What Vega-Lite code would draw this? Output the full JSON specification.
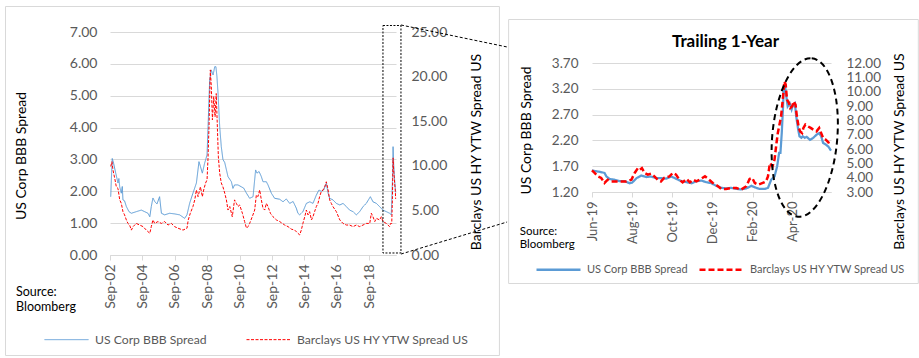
{
  "$schema": "https://vega.github.io/schema/vega-lite/v6.json",
  "padding": {"left": 5, "top": 6, "right": 0, "bottom": 0},
  "background": "white",
  "spacing": 0,
  "config": {
    "view": {"stroke": null},
    "font": "Lato",
    "axis": {"labelFont": "Lato", "titleFont": "Lato", "labelColor": "#595959", "titleColor": "#000000", "titleFontWeight": "normal", "gridColor": "#D9D9D9", "domainColor": "#D9D9D9", "tickColor": "#D9D9D9", "labelOverlap": false, "labelFlush": false},
    "legend": {"labelFont": "Lato", "labelColor": "#595959", "symbolType": "stroke", "labelLimit": 400}
  },
  "datasets": {
    "lb": [
      {"d":"2002-09-17","v":1.83},{"d":"2002-10-01","v":2.35},{"d":"2002-10-22","v":3.03},{"d":"2002-11-21","v":2.88},{"d":"2003-01-08","v":2.57},{"d":"2003-02-28","v":2.26},{"d":"2003-03-20","v":2.40},{"d":"2003-04-08","v":2.14},{"d":"2003-05-14","v":1.94},{"d":"2003-06-05","v":2.15},{"d":"2003-06-20","v":1.73},{"d":"2003-07-26","v":1.70},{"d":"2003-09-05","v":1.52},{"d":"2003-11-03","v":1.36},{"d":"2003-12-27","v":1.31},{"d":"2004-04-15","v":1.36},{"d":"2004-08-07","v":1.41},{"d":"2004-10-22","v":1.36},{"d":"2005-01-04","v":1.31},{"d":"2005-02-14","v":1.20},{"d":"2005-03-20","v":1.52},{"d":"2005-04-26","v":1.79},{"d":"2005-06-05","v":1.68},{"d":"2005-07-26","v":1.60},{"d":"2005-09-23","v":1.83},{"d":"2005-11-03","v":1.31},{"d":"2006-01-15","v":1.26},{"d":"2006-05-07","v":1.31},{"d":"2006-08-28","v":1.29},{"d":"2006-12-20","v":1.26},{"d":"2007-04-11","v":1.15},{"d":"2007-06-02","v":1.26},{"d":"2007-08-03","v":1.63},{"d":"2007-10-15","v":1.94},{"d":"2008-01-01","v":2.26},{"d":"2008-02-28","v":2.93},{"d":"2008-04-01","v":2.78},{"d":"2008-05-14","v":2.57},{"d":"2008-07-04","v":2.88},{"d":"2008-08-28","v":3.14},{"d":"2008-09-20","v":4.03},{"d":"2008-10-26","v":5.49},{"d":"2008-12-02","v":5.81},{"d":"2009-01-11","v":5.65},{"d":"2009-02-17","v":5.91},{"d":"2009-03-16","v":5.91},{"d":"2009-04-08","v":5.60},{"d":"2009-05-03","v":5.07},{"d":"2009-06-09","v":4.03},{"d":"2009-07-15","v":3.40},{"d":"2009-08-21","v":3.00},{"d":"2009-10-01","v":2.90},{"d":"2009-12-13","v":2.46},{"d":"2010-02-28","v":2.30},{"d":"2010-04-04","v":2.09},{"d":"2010-05-10","v":2.20},{"d":"2010-07-26","v":2.20},{"d":"2010-10-11","v":2.14},{"d":"2010-12-02","v":2.10},{"d":"2011-02-03","v":1.94},{"d":"2011-04-15","v":1.78},{"d":"2011-07-01","v":1.83},{"d":"2011-08-28","v":2.67},{"d":"2011-09-27","v":2.57},{"d":"2011-11-14","v":2.62},{"d":"2012-01-04","v":2.46},{"d":"2012-02-10","v":2.30},{"d":"2012-04-26","v":2.30},{"d":"2012-06-02","v":2.20},{"d":"2012-08-17","v":1.94},{"d":"2012-10-29","v":1.78},{"d":"2013-02-21","v":1.75},{"d":"2013-05-07","v":1.67},{"d":"2013-07-19","v":1.76},{"d":"2013-10-04","v":1.62},{"d":"2013-12-20","v":1.68},{"d":"2014-03-02","v":1.47},{"d":"2014-04-08","v":1.31},{"d":"2014-05-17","v":1.26},{"d":"2014-07-29","v":1.36},{"d":"2014-10-15","v":1.62},{"d":"2015-01-01","v":1.67},{"d":"2015-03-13","v":1.62},{"d":"2015-05-28","v":1.88},{"d":"2015-07-26","v":2.04},{"d":"2015-09-16","v":2.00},{"d":"2015-11-10","v":2.04},{"d":"2016-01-08","v":2.25},{"d":"2016-02-17","v":1.94},{"d":"2016-03-23","v":1.78},{"d":"2016-06-05","v":1.73},{"d":"2016-08-21","v":1.62},{"d":"2016-11-07","v":1.57},{"d":"2017-01-19","v":1.62},{"d":"2017-04-04","v":1.52},{"d":"2017-06-16","v":1.41},{"d":"2017-09-02","v":1.36},{"d":"2017-11-14","v":1.26},{"d":"2018-01-29","v":1.36},{"d":"2018-04-15","v":1.52},{"d":"2018-06-27","v":1.62},{"d":"2018-09-27","v":1.83},{"d":"2018-11-25","v":1.67},{"d":"2019-02-10","v":1.62},{"d":"2019-04-22","v":1.52},{"d":"2019-07-08","v":1.41},{"d":"2019-09-23","v":1.36},{"d":"2019-12-05","v":1.31},{"d":"2020-01-11","v":1.26},{"d":"2020-02-07","v":2.35},{"d":"2020-02-21","v":3.40},{"d":"2020-03-05","v":2.88},{"d":"2020-03-27","v":2.35},{"d":"2020-04-08","v":2.14},{"d":"2020-04-19","v":1.96}
    ],
    "lh": [
      {"d":"2002-09-17","v":9.93},{"d":"2002-10-15","v":10.46},{"d":"2002-11-07","v":9.54},{"d":"2002-12-16","v":8.61},{"d":"2003-01-22","v":7.64},{"d":"2003-02-28","v":7.46},{"d":"2003-04-08","v":6.18},{"d":"2003-05-14","v":5.79},{"d":"2003-06-20","v":4.86},{"d":"2003-07-26","v":4.50},{"d":"2003-09-05","v":3.93},{"d":"2003-10-11","v":3.54},{"d":"2003-11-17","v":3.36},{"d":"2003-12-27","v":2.79},{"d":"2004-02-03","v":3.18},{"d":"2004-04-15","v":3.54},{"d":"2004-07-01","v":3.36},{"d":"2004-09-16","v":3.18},{"d":"2004-11-28","v":2.79},{"d":"2005-02-14","v":2.43},{"d":"2005-03-20","v":3.18},{"d":"2005-04-26","v":3.93},{"d":"2005-06-05","v":3.54},{"d":"2005-08-17","v":3.75},{"d":"2005-11-03","v":3.54},{"d":"2006-01-15","v":3.75},{"d":"2006-04-01","v":3.36},{"d":"2006-06-16","v":3.54},{"d":"2006-08-28","v":3.18},{"d":"2006-11-14","v":3.00},{"d":"2007-03-05","v":2.79},{"d":"2007-06-02","v":3.00},{"d":"2007-07-01","v":3.93},{"d":"2007-08-17","v":4.68},{"d":"2007-10-15","v":5.43},{"d":"2007-11-25","v":6.18},{"d":"2008-01-01","v":7.29},{"d":"2008-02-07","v":6.54},{"d":"2008-04-01","v":7.64},{"d":"2008-05-14","v":6.54},{"d":"2008-06-13","v":7.29},{"d":"2008-07-26","v":8.07},{"d":"2008-08-28","v":8.43},{"d":"2008-09-20","v":11.0},{"d":"2008-10-11","v":14.39},{"d":"2008-11-10","v":20.75},{"d":"2008-12-02","v":18.89},{"d":"2008-12-27","v":15.14},{"d":"2009-01-26","v":17.75},{"d":"2009-02-25","v":15.5},{"d":"2009-03-23","v":18.1},{"d":"2009-04-15","v":14.75},{"d":"2009-05-10","v":11.0},{"d":"2009-06-09","v":9.18},{"d":"2009-07-15","v":8.07},{"d":"2009-08-21","v":7.64},{"d":"2009-10-01","v":6.93},{"d":"2009-11-07","v":6.18},{"d":"2009-12-13","v":5.04},{"d":"2010-01-22","v":5.43},{"d":"2010-03-20","v":4.29},{"d":"2010-05-10","v":6.18},{"d":"2010-06-20","v":5.79},{"d":"2010-07-26","v":5.43},{"d":"2010-09-02","v":5.61},{"d":"2010-11-03","v":4.68},{"d":"2010-12-23","v":3.75},{"d":"2011-02-03","v":3.00},{"d":"2011-03-09","v":3.18},{"d":"2011-04-15","v":3.54},{"d":"2011-06-13","v":4.29},{"d":"2011-08-07","v":5.04},{"d":"2011-09-13","v":6.71},{"d":"2011-10-19","v":6.54},{"d":"2011-11-28","v":7.29},{"d":"2012-01-04","v":6.18},{"d":"2012-02-10","v":5.25},{"d":"2012-03-20","v":5.04},{"d":"2012-04-26","v":5.79},{"d":"2012-06-02","v":5.43},{"d":"2012-07-26","v":4.68},{"d":"2012-09-23","v":4.29},{"d":"2012-12-09","v":3.93},{"d":"2013-02-21","v":3.75},{"d":"2013-04-22","v":3.54},{"d":"2013-06-13","v":3.36},{"d":"2013-08-28","v":3.18},{"d":"2013-11-10","v":2.90},{"d":"2014-01-26","v":2.79},{"d":"2014-04-08","v":2.43},{"d":"2014-05-17","v":2.25},{"d":"2014-06-23","v":2.79},{"d":"2014-07-29","v":3.54},{"d":"2014-09-09","v":4.29},{"d":"2014-10-15","v":5.04},{"d":"2014-11-21","v":4.50},{"d":"2014-12-27","v":4.86},{"d":"2015-02-07","v":3.93},{"d":"2015-03-13","v":4.29},{"d":"2015-04-19","v":4.86},{"d":"2015-05-28","v":5.43},{"d":"2015-07-04","v":5.79},{"d":"2015-08-10","v":6.54},{"d":"2015-09-16","v":7.11},{"d":"2015-10-26","v":7.29},{"d":"2015-12-02","v":7.64},{"d":"2016-01-08","v":8.21},{"d":"2016-02-17","v":7.29},{"d":"2016-03-23","v":6.18},{"d":"2016-04-29","v":5.79},{"d":"2016-06-05","v":5.43},{"d":"2016-08-21","v":4.86},{"d":"2016-11-07","v":3.93},{"d":"2017-01-19","v":3.54},{"d":"2017-04-04","v":3.36},{"d":"2017-06-16","v":3.36},{"d":"2017-09-02","v":3.18},{"d":"2017-11-14","v":3.36},{"d":"2018-01-29","v":3.18},{"d":"2018-04-15","v":3.36},{"d":"2018-06-27","v":3.54},{"d":"2018-09-13","v":3.54},{"d":"2018-10-19","v":4.68},{"d":"2018-11-25","v":4.29},{"d":"2019-01-04","v":3.75},{"d":"2019-02-10","v":4.11},{"d":"2019-04-22","v":3.93},{"d":"2019-06-02","v":4.29},{"d":"2019-07-08","v":3.75},{"d":"2019-09-23","v":3.54},{"d":"2019-10-29","v":3.36},{"d":"2019-12-05","v":3.18},{"d":"2019-12-27","v":3.54},{"d":"2020-01-22","v":3.54},{"d":"2020-02-07","v":6.54},{"d":"2020-02-21","v":10.89},{"d":"2020-03-05","v":9.54},{"d":"2020-03-27","v":8.07},{"d":"2020-04-11","v":7.29},{"d":"2020-04-19","v":6.29}
    ],
    "rb": [
      {"d":"2019-06-01","v":1.62},{"d":"2019-06-08","v":1.60},{"d":"2019-06-13","v":1.59},{"d":"2019-06-20","v":1.57},{"d":"2019-06-23","v":1.50},{"d":"2019-06-28","v":1.45},{"d":"2019-07-05","v":1.44},{"d":"2019-07-13","v":1.41},{"d":"2019-07-21","v":1.41},{"d":"2019-07-28","v":1.37},{"d":"2019-08-01","v":1.38},{"d":"2019-08-08","v":1.47},{"d":"2019-08-15","v":1.52},{"d":"2019-08-23","v":1.49},{"d":"2019-08-30","v":1.50},{"d":"2019-09-07","v":1.47},{"d":"2019-09-14","v":1.47},{"d":"2019-09-22","v":1.46},{"d":"2019-09-30","v":1.50},{"d":"2019-10-08","v":1.45},{"d":"2019-10-15","v":1.41},{"d":"2019-10-23","v":1.39},{"d":"2019-10-31","v":1.37},{"d":"2019-11-07","v":1.41},{"d":"2019-11-15","v":1.42},{"d":"2019-11-22","v":1.39},{"d":"2019-11-30","v":1.37},{"d":"2019-12-07","v":1.32},{"d":"2019-12-15","v":1.28},{"d":"2019-12-22","v":1.27},{"d":"2019-12-30","v":1.28},{"d":"2020-01-07","v":1.26},{"d":"2020-01-14","v":1.25},{"d":"2020-01-22","v":1.27},{"d":"2020-01-30","v":1.32},{"d":"2020-02-04","v":1.29},{"d":"2020-02-11","v":1.26},{"d":"2020-02-19","v":1.26},{"d":"2020-02-24","v":1.28},{"d":"2020-02-29","v":1.44},{"d":"2020-03-05","v":1.50},{"d":"2020-03-09","v":1.70},{"d":"2020-03-12","v":1.96},{"d":"2020-03-14","v":1.96},{"d":"2020-03-16","v":2.34},{"d":"2020-03-18","v":2.86},{"d":"2020-03-19","v":3.22},{"d":"2020-03-21","v":3.25},{"d":"2020-03-23","v":3.05},{"d":"2020-03-25","v":2.86},{"d":"2020-03-28","v":2.92},{"d":"2020-03-31","v":2.80},{"d":"2020-04-02","v":2.89},{"d":"2020-04-05","v":2.92},{"d":"2020-04-07","v":2.67},{"d":"2020-04-10","v":2.41},{"d":"2020-04-12","v":2.28},{"d":"2020-04-15","v":2.25},{"d":"2020-04-17","v":2.28},{"d":"2020-04-20","v":2.25},{"d":"2020-04-23","v":2.27},{"d":"2020-04-28","v":2.21},{"d":"2020-05-03","v":2.25},{"d":"2020-05-08","v":2.31},{"d":"2020-05-12","v":2.34},{"d":"2020-05-15","v":2.28},{"d":"2020-05-18","v":2.15},{"d":"2020-05-22","v":2.12},{"d":"2020-05-26","v":2.08},{"d":"2020-05-30","v":2.00}
    ],
    "rh": [
      {"d":"2019-06-01","v":4.51},{"d":"2019-06-05","v":4.33},{"d":"2019-06-10","v":4.09},{"d":"2019-06-15","v":3.98},{"d":"2019-06-20","v":3.63},{"d":"2019-06-25","v":3.86},{"d":"2019-06-30","v":3.74},{"d":"2019-07-08","v":3.74},{"d":"2019-07-15","v":3.74},{"d":"2019-07-23","v":3.74},{"d":"2019-07-31","v":3.86},{"d":"2019-08-05","v":4.33},{"d":"2019-08-10","v":4.67},{"d":"2019-08-13","v":4.56},{"d":"2019-08-16","v":4.67},{"d":"2019-08-20","v":4.33},{"d":"2019-08-25","v":4.21},{"d":"2019-08-30","v":4.28},{"d":"2019-09-04","v":4.09},{"d":"2019-09-09","v":3.86},{"d":"2019-09-14","v":3.74},{"d":"2019-09-19","v":3.98},{"d":"2019-09-27","v":4.09},{"d":"2019-10-02","v":4.33},{"d":"2019-10-07","v":4.21},{"d":"2019-10-12","v":3.86},{"d":"2019-10-17","v":3.67},{"d":"2019-10-23","v":3.91},{"d":"2019-10-28","v":3.67},{"d":"2019-11-02","v":3.86},{"d":"2019-11-07","v":3.74},{"d":"2019-11-12","v":3.86},{"d":"2019-11-20","v":4.09},{"d":"2019-11-25","v":3.91},{"d":"2019-12-02","v":3.63},{"d":"2019-12-10","v":3.40},{"d":"2019-12-15","v":3.21},{"d":"2019-12-22","v":3.21},{"d":"2019-12-30","v":3.28},{"d":"2020-01-07","v":3.28},{"d":"2020-01-14","v":3.16},{"d":"2020-01-22","v":3.40},{"d":"2020-01-27","v":3.91},{"d":"2020-01-31","v":3.98},{"d":"2020-02-04","v":3.63},{"d":"2020-02-09","v":3.51},{"d":"2020-02-16","v":3.63},{"d":"2020-02-21","v":3.74},{"d":"2020-02-24","v":4.09},{"d":"2020-02-27","v":5.02},{"d":"2020-03-02","v":4.79},{"d":"2020-03-05","v":5.26},{"d":"2020-03-08","v":6.42},{"d":"2020-03-10","v":7.12},{"d":"2020-03-13","v":7.81},{"d":"2020-03-15","v":8.28},{"d":"2020-03-18","v":9.67},{"d":"2020-03-20","v":10.72},{"d":"2020-03-22","v":10.49},{"d":"2020-03-24","v":9.44},{"d":"2020-03-27","v":9.21},{"d":"2020-03-29","v":8.86},{"d":"2020-04-01","v":8.98},{"d":"2020-04-03","v":9.33},{"d":"2020-04-06","v":9.09},{"d":"2020-04-08","v":8.28},{"d":"2020-04-11","v":7.47},{"d":"2020-04-13","v":7.23},{"d":"2020-04-16","v":7.12},{"d":"2020-04-18","v":7.47},{"d":"2020-04-21","v":7.70},{"d":"2020-04-25","v":7.58},{"d":"2020-04-29","v":7.47},{"d":"2020-05-03","v":7.35},{"d":"2020-05-08","v":7.23},{"d":"2020-05-12","v":7.47},{"d":"2020-05-14","v":7.23},{"d":"2020-05-18","v":6.77},{"d":"2020-05-22","v":6.65},{"d":"2020-05-26","v":6.47},{"d":"2020-05-28","v":6.30}
    ]
  },
  "hconcat": [
    {
      "width": 286,
      "height": 223,
      "encoding": {
        "x": {
          "field": "d", "type": "temporal",
          "scale": {"type": "utc", "domain": [{"year": 2002, "month": 9, "date": 1, "utc": true}, {"year": 2020, "month": 4, "date": 27, "utc": true}]},
          "axis": {
            "title": null, "format": "%b-%y", "labelAngle": -90, "labelFontSize": 14, "tickSize": 5, "labelPadding": 4, "grid": false,
            "values": [
              {"year": 2002, "month": 9, "date": 1, "utc": true}, {"year": 2004, "month": 9, "date": 1, "utc": true},
              {"year": 2006, "month": 9, "date": 1, "utc": true}, {"year": 2008, "month": 9, "date": 1, "utc": true},
              {"year": 2010, "month": 9, "date": 1, "utc": true}, {"year": 2012, "month": 9, "date": 1, "utc": true},
              {"year": 2014, "month": 9, "date": 1, "utc": true}, {"year": 2016, "month": 9, "date": 1, "utc": true},
              {"year": 2018, "month": 9, "date": 1, "utc": true}
            ]
          }
        }
      },
      "layer": [
        {
          "data": {"name": "lb"},
          "mark": {"type": "line", "strokeWidth": 1},
          "encoding": {
            "y": {
              "field": "v", "type": "quantitative", "scale": {"domain": [0, 7]},
              "axis": {"values": [0, 1, 2, 3, 4, 5, 6, 7], "format": ".2f", "grid": true, "domain": false, "ticks": false, "tickSize": 0, "labelPadding": 13, "labelFontSize": 14, "title": "US Corp BBB Spread", "titleFontSize": 14, "titleAngle": 270, "titleBaseline": "bottom", "titleAlign": "center", "titleX": -82, "titleY": 123.5}
            },
            "color": {
              "datum": "US Corp BBB Spread",
              "scale": {"domain": ["US Corp BBB Spread", "Barclays US HY YTW Spread US"], "range": ["#5B9BD5", "#FF0000"]},
              "legend": {
                "title": null, "orient": "none", "legendX": -66, "legendY": 285, "direction": "horizontal", "symbolType": "stroke", "symbolSize": 1936, "symbolStrokeWidth": 1, "labelFontSize": 12.2, "labelOffset": 6, "columnPadding": 37, "labelLimit": 400,
                "encode": {"symbols": {"update": {"strokeDash": {"signal": "datum.value === 'Barclays US HY YTW Spread US' ? [3, 1.5] : [1, 0]"}}}}
              }
            },
            "strokeDash": {
              "datum": "US Corp BBB Spread",
              "scale": {"domain": ["US Corp BBB Spread", "Barclays US HY YTW Spread US"], "range": [[1, 0], [3, 1.5]]},
              "legend": null
            }
          }
        },
        {
          "data": {"name": "lh"},
          "mark": {"type": "line", "strokeWidth": 1},
          "encoding": {
            "y": {
              "field": "v", "type": "quantitative", "scale": {"domain": [0, 25]},
              "axis": {"orient": "right", "values": [0, 5, 10, 15, 20, 25], "format": ".2f", "grid": false, "domain": false, "ticks": false, "tickSize": 0, "labelPadding": 15, "labelFontSize": 14, "title": "Barclays US HY YTW Spread US", "titleFontSize": 14, "titleAngle": 270, "titleBaseline": "bottom", "titleAlign": "center", "titleX": 87, "titleY": 119.5}
            },
            "color": {"datum": "Barclays US HY YTW Spread US"},
            "strokeDash": {"datum": "Barclays US HY YTW Spread US", "legend": null}
          }
        },
        {
          "encoding": {"y": {"field": "v", "type": "quantitative", "scale": {"domain": [0, 7]}, "axis": null}},
          "layer": [
            {
              "data": {"values": [{"d": "1996-03-20", "d2": "2026-09-15", "v": 7.80, "v2": -3.155}]},
              "mark": {"type": "rect", "filled": false, "stroke": "#D9D9D9", "strokeWidth": 1, "clip": false},
              "encoding": {"x2": {"field": "d2"}, "y2": {"field": "v2"}}
            },
            {
              "data": {"values": [{"d": "2019-07-08", "d2": "2020-08-17", "v": 7.204, "v2": 0.063}]},
              "mark": {"type": "rect", "filled": false, "stroke": "#000000", "strokeWidth": 1, "strokeDash": [2, 1.5], "clip": false},
              "encoding": {"x2": {"field": "d2"}, "y2": {"field": "v2"}}
            },
            {
              "data": {"values": [
                {"d": "2020-08-17", "d2": "2027-03-06", "v": 7.22, "v2": 6.53},
                {"d": "2020-08-17", "d2": "2027-03-06", "v": 0.03, "v2": 1.036}
              ]},
              "mark": {"type": "rule", "color": "#000000", "strokeWidth": 1, "strokeDash": [3, 2], "clip": false},
              "encoding": {"x2": {"field": "d2"}, "y2": {"field": "v2"}}
            },
            {
              "data": {"values": [{"d": "1996-11-12", "v": -0.973, "label": ["Source:", "Bloomberg"]}]},
              "mark": {"type": "text", "align": "left", "baseline": "top", "font": "Lato", "fontSize": 12.5, "lineHeight": 15, "color": "#000000", "clip": false},
              "encoding": {"text": {"field": "label"}}
            }
          ]
        }
      ],
      "resolve": {"scale": {"y": "independent"}}
    },
    {
      "width": 239,
      "height": 160,
      "title": {"text": "Trailing 1-Year", "frame": "group", "anchor": "middle", "dx": 14, "offset": -45, "fontSize": 17, "fontWeight": "bold", "font": "Lato", "color": "#000000", "baseline": "alphabetic"},
      "encoding": {
        "x": {
          "field": "d", "type": "temporal",
          "scale": {"type": "utc", "domain": [{"year": 2019, "month": 6, "date": 1, "utc": true}, {"year": 2020, "month": 5, "date": 30, "utc": true}]},
          "axis": {
            "title": null, "format": "%b-%y", "labelAngle": -90, "labelFontSize": 13, "tickSize": 5, "labelPadding": 4, "grid": false,
            "values": [
              {"year": 2019, "month": 6, "date": 1, "utc": true}, {"year": 2019, "month": 8, "date": 1, "utc": true},
              {"year": 2019, "month": 10, "date": 1, "utc": true}, {"year": 2019, "month": 12, "date": 1, "utc": true},
              {"year": 2020, "month": 2, "date": 1, "utc": true}, {"year": 2020, "month": 4, "date": 1, "utc": true}
            ]
          }
        }
      },
      "layer": [
        {
          "data": {"name": "rb"},
          "mark": {"type": "line", "strokeWidth": 2.25},
          "encoding": {
            "y": {
              "field": "v", "type": "quantitative", "scale": {"domain": [1.2, 4.3008]},
              "axis": {"values": [1.2, 1.7, 2.2, 2.7, 3.2, 3.7], "format": ".2f", "grid": true, "domain": false, "ticks": false, "tickSize": 0, "labelPadding": 14, "labelFontSize": 13.5, "title": "US Corp BBB Spread", "titleFontSize": 14, "titleAngle": 270, "titleBaseline": "bottom", "titleAlign": "center", "titleX": -59, "titleY": 98}
            },
            "color": {
              "datum": "US Corp BBB Spread",
              "scale": {"domain": ["US Corp BBB Spread", "Barclays US HY YTW Spread US"], "range": ["#5B9BD5", "#FF0000"]},
              "legend": {
                "title": null, "orient": "none", "legendX": -57, "legendY": 214, "direction": "horizontal", "symbolType": "stroke", "symbolSize": 1936, "symbolStrokeWidth": 2.5, "labelFontSize": 11, "labelOffset": 5, "columnPadding": 6, "labelLimit": 400,
                "encode": {"symbols": {"update": {"strokeDash": {"signal": "datum.value === 'Barclays US HY YTW Spread US' ? [6, 3] : [1, 0]"}}}}
              }
            },
            "strokeDash": {
              "datum": "US Corp BBB Spread",
              "scale": {"domain": ["US Corp BBB Spread", "Barclays US HY YTW Spread US"], "range": [[1, 0], [6, 3]]},
              "legend": null
            }
          }
        },
        {
          "data": {"name": "rh"},
          "mark": {"type": "line", "strokeWidth": 2.5},
          "encoding": {
            "y": {
              "field": "v", "type": "quantitative", "scale": {"domain": [3, 14.1628]},
              "axis": {"orient": "right", "values": [3, 4, 5, 6, 7, 8, 9, 10, 11, 12], "format": ".2f", "grid": false, "domain": false, "ticks": false, "tickSize": 0, "labelPadding": 15, "labelFontSize": 13.5, "title": "Barclays US HY YTW Spread US", "titleFontSize": 14, "titleAngle": 270, "titleBaseline": "bottom", "titleAlign": "center", "titleX": 75, "titleY": 119}
            },
            "color": {"datum": "Barclays US HY YTW Spread US"},
            "strokeDash": {"datum": "Barclays US HY YTW Spread US", "legend": null}
          }
        },
        {
          "encoding": {"y": {"field": "v", "type": "quantitative", "scale": {"domain": [1.2, 4.3008]}, "axis": null}},
          "layer": [
            {
              "data": {"values": [{"d": "2019-01-25", "d2": "2020-10-10", "v": 4.5426, "v2": -0.573}]},
              "mark": {"type": "rect", "filled": false, "stroke": "#D9D9D9", "strokeWidth": 1, "clip": false},
              "encoding": {"x2": {"field": "d2"}, "y2": {"field": "v2"}}
            },
            {
              "data": {"values": [{"d": "2020-04-20", "v": 2.256}]},
              "mark": {"type": "point", "shape": "M0,-1C0.226,-1,0.409,-0.552,0.409,0C0.409,0.552,0.226,1,0,1C-0.226,1,-0.409,0.552,-0.409,0C-0.409,-0.552,-0.226,-1,0,-1Z", "size": 25281, "filled": false, "stroke": "#000000", "strokeWidth": 2, "strokeDash": [6, 4], "angle": 5, "opacity": 1, "clip": false}
            },
            {
              "data": {"values": [{"d": "2019-02-11", "v": 0.541, "label": ["Source:", "Bloomberg"]}]},
              "mark": {"type": "text", "align": "left", "baseline": "top", "font": "Lato", "fontSize": 11.5, "lineHeight": 13, "color": "#000000", "clip": false},
              "encoding": {"text": {"field": "label"}}
            }
          ]
        }
      ],
      "resolve": {"scale": {"y": "independent"}}
    }
  ],
  "resolve": {"scale": {"color": "independent", "strokeDash": "independent"}}
}
